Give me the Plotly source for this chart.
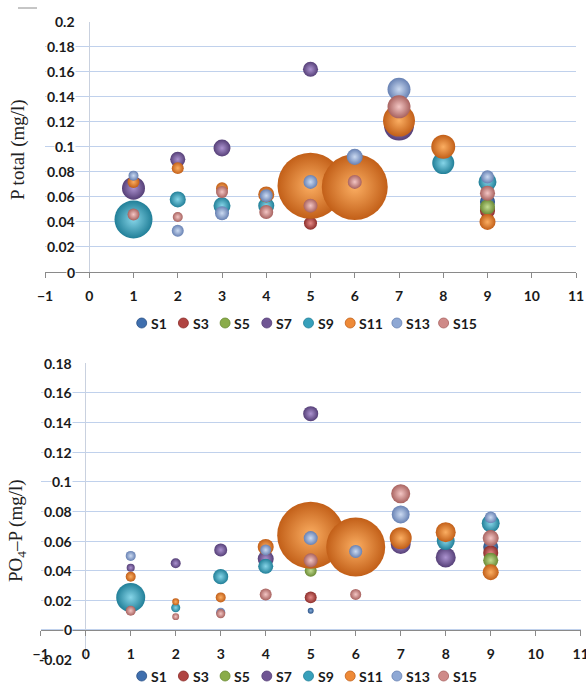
import plotly.graph_objects as go

W, H = 586, 684

# ---------------- data ----------------
stations = [1, 2, 3, 4, 5, 6, 7, 8, 9]
series = ["S1", "S3", "S5", "S7", "S9", "S11", "S13", "S15"]
N = None

# P total (mg/l)
tp_S1 = [N, N, N, N, N, N, N, N, 0.056]
tp_S3 = [N, N, N, N, 0.039, N, N, N, 0.049]
tp_S5 = [N, N, N, N, N, N, N, N, 0.052]
tp_S7 = [0.067, 0.090, 0.099, N, 0.162, N, 0.117, N, N]
tp_S9 = [0.042, 0.058, 0.053, 0.053, N, N, N, 0.087, 0.072]
tp_S11 = [0.072, 0.083, 0.067, 0.062, 0.069, 0.068, 0.121, 0.100, 0.040]
tp_S13 = [0.077, 0.033, 0.047, 0.061, 0.072, 0.092, 0.146, N, 0.076]
tp_S15 = [0.046, 0.044, 0.064, 0.048, 0.053, 0.072, 0.132, N, 0.063]

# bubble sizes (relative) for P total
tps_S1 = [N, N, N, N, N, N, N, N, 5.2]
tps_S3 = [N, N, N, N, 3.9, N, N, N, 5.2]
tps_S5 = [N, N, N, N, N, N, N, N, 5.2]
tps_S7 = [12.1, 5.2, 6.6, N, 5.2, N, 20.7, N, N]
tps_S9 = [33.1, 5.9, 6.6, 5.9, N, N, N, 11.1, 7.4]
tps_S11 = [3.3, 3.3, 3.3, 5.9, 100, 100, 23.5, 13.2, 5.9]
tps_S13 = [2.3, 3.3, 4.5, 3.9, 4.5, 5.9, 12.1, N, 3.9]
tps_S15 = [3.3, 2.3, 3.3, 4.5, 4.5, 4.5, 12.1, N, 5.2]

# PO4-P (mg/l)
po_S1 = [N, N, N, N, 0.013, N, N, N, 0.056]
po_S3 = [N, N, N, N, 0.022, N, N, N, 0.052]
po_S5 = [N, N, N, N, 0.040, N, N, N, 0.047]
po_S7 = [0.042, 0.045, 0.054, 0.048, 0.146, N, 0.058, 0.049, N]
po_S9 = [0.022, 0.015, 0.036, 0.043, N, N, N, 0.060, 0.072]
po_S11 = [0.036, 0.019, 0.022, 0.056, 0.064, 0.056, 0.062, 0.066, 0.039]
po_S13 = [0.050, N, 0.012, 0.054, 0.062, 0.053, 0.078, N, 0.076]
po_S15 = [0.013, 0.009, 0.011, 0.024, 0.047, 0.024, 0.092, N, 0.062]

# bubble sizes (relative) for PO4-P
pos_S1 = [N, N, N, N, 0.8, N, N, N, 5.2]
pos_S3 = [N, N, N, N, 3.3, N, N, N, 5.2]
pos_S5 = [N, N, N, N, 3.3, N, N, N, 5.2]
pos_S7 = [1.5, 2.3, 3.9, 5.9, 5.2, N, 9.2, 9.2, N]
pos_S9 = [19.3, 1.9, 5.2, 5.2, N, N, N, 7.4, 7.4]
pos_S11 = [2.3, 1.1, 2.3, 5.9, 103, 80, 11.1, 9.2, 5.9]
pos_S13 = [2.3, N, 1.9, 2.8, 4.5, 3.9, 7.4, N, 3.3]
pos_S15 = [2.3, 1.1, 1.9, 3.3, 4.5, 2.8, 8.3, N, 5.9]

x_ticks = list(range(-1, 12))
tp_ticks = [0, 0.02, 0.04, 0.06, 0.08, 0.1, 0.12, 0.14, 0.16, 0.18, 0.2]
tp_labels = ["0", "0.02", "0.04", "0.06", "0.08", "0.1", "0.12", "0.14", "0.16", "0.18", "0.2"]
po_ticks = [-0.02, 0, 0.02, 0.04, 0.06, 0.08, 0.1, 0.12, 0.14, 0.16, 0.18]
po_labels = ["-0.02", "0", "0.02", "0.04", "0.06", "0.08", "0.1", "0.12", "0.14", "0.16", "0.18"]

top_y = [tp_S1, tp_S3, tp_S5, tp_S7, tp_S9, tp_S11, tp_S13, tp_S15]
top_s = [tps_S1, tps_S3, tps_S5, tps_S7, tps_S9, tps_S11, tps_S13, tps_S15]
bot_y = [po_S1, po_S3, po_S5, po_S7, po_S9, po_S11, po_S13, po_S15]
bot_s = [pos_S1, pos_S3, pos_S5, pos_S7, pos_S9, pos_S11, pos_S13, pos_S15]

# ---------------- styles ----------------
edge = ["#2b5286", "#8c2d2a", "#6a8a34", "#553f77", "#217f98", "#c25f18", "#6781b3", "#a8625f"]
center = ["#86aedd", "#e58a87", "#c3dc92", "#ac93d0", "#86d5e8", "#fbae62", "#cbdaf1", "#f3c6c4"]
mid = ["#3f6fae", "#b04441", "#8aac4a", "#6f5593", "#37a0bb", "#ee8a37", "#8ea8d4", "#cf8a88"]

MAXD = 66.0
SIZEREF = 2 * 100 / MAXD ** 2

TICKFONT = dict(family="Lato, Liberation Sans, sans-serif", size=14, color="#1a1a1a", weight="bold")
GRID = "#c0d1ec"

fig = go.Figure()


def add_series(ys_list, ss_list, xa, ya):
    for i, name in enumerate(series):
        xs, ys, ss = [], [], []
        for xv, yv, sv in zip(stations, ys_list[i], ss_list[i]):
            if yv is not None:
                xs.append(xv)
                ys.append(yv)
                ss.append(sv)
        fig.add_trace(go.Scatter(
            x=xs, y=ys, mode="markers", name=name, xaxis=xa, yaxis=ya,
            showlegend=False, cliponaxis=False,
            marker=dict(size=ss, sizemode="area", sizeref=SIZEREF, sizemin=0,
                        color=edge[i], opacity=1, line=dict(width=0),
                        gradient=dict(type="radial", color=center[i])),
        ))


add_series(top_y, top_s, "x", "y")
add_series(bot_y, bot_s, "x2", "y2")

top_dom_y = [1 - 272 / H, 1 - 21.7 / H]
bot_dom_y = [1 - 659.6 / H, 1 - 363.3 / H]

xcommon = dict(range=[-1, 11], tickvals=x_ticks, showgrid=False, showline=True,
               linecolor="#8a8a8a", linewidth=1, ticks="outside", ticklen=5,
               tickcolor="#8a8a8a", tickfont=TICKFONT, zeroline=True,
               zerolinecolor="#c9d1df", zerolinewidth=1, ticklabelstandoff=6,
               ticklabeloverflow="allow", automargin=False)
ycommon = dict(showticklabels=False, showgrid=True, gridcolor=GRID, gridwidth=1.2,
               zeroline=False, showline=False, ticks="", automargin=False)

fig.update_layout(
    width=W, height=H, margin=dict(l=0, r=0, t=0, b=0, autoexpand=False),
    paper_bgcolor="white", plot_bgcolor="white", showlegend=False,
    xaxis=dict(domain=[45 / W, 576 / W], anchor="y", **xcommon),
    yaxis=dict(domain=top_dom_y, anchor="x", range=[0, 0.2], tickvals=tp_ticks, **ycommon),
    xaxis2=dict(domain=[40.7 / W, 580.7 / W], anchor="free", position=1 - 630 / H, **xcommon),
    yaxis2=dict(domain=bot_dom_y, anchor="x2", range=[-0.02, 0.18], tickvals=po_ticks, **ycommon),
)

annotations = []
# y tick labels (with white background like Excel)
for xa, ya, vals, labs in [("x", "y", tp_ticks, tp_labels), ("x2", "y2", po_ticks, po_labels)]:
    for v, t in zip(vals, labs):
        annotations.append(dict(
            xref=xa, yref=ya, x=0, y=v, text=t, showarrow=False, xanchor="right",
            yanchor="middle", xshift=-13, font=TICKFONT, borderpad=0,
            bgcolor="white" if v >= 0 else "rgba(0,0,0,0)"))

# axis titles
TITLEFONT = dict(family="Liberation Serif, Times New Roman, serif", size=19, color="#222222")
annotations.append(dict(xref="paper", yref="paper", x=18 / W, y=1 - 150 / H,
                        text="P total (mg/l)", textangle=-90, showarrow=False,
                        font=TITLEFONT, xanchor="center", yanchor="middle"))
annotations.append(dict(xref="paper", yref="paper", x=17 / W, y=1 - 531 / H,
                        text="PO<sub>4</sub>–P (mg/l)", textangle=-90, showarrow=False,
                        font=TITLEFONT, xanchor="center", yanchor="middle"))

# custom legends (Excel-like compact layout)
shapes = []
for ly in (323, 676):
    mx = 141.7
    for i, name in enumerate(series):
        shapes.append(dict(type="circle", xref="paper", yref="paper",
                           xsizemode="pixel", ysizemode="pixel",
                           xanchor=mx / W, yanchor=1 - ly / H,
                           x0=-5, x1=5, y0=-5, y1=5,
                           fillcolor=mid[i], line=dict(color=edge[i], width=0.8)))
        annotations.append(dict(xref="paper", yref="paper", x=(mx + 8.3) / W, y=1 - ly / H,
                                text=name, showarrow=False, xanchor="left", yanchor="middle",
                                font=TICKFONT, borderpad=0))
        mx += 36.7 + 5 * (len(name) - 1)

# small stray dash at top-left of the original
shapes.append(dict(type="line", xref="paper", yref="paper", x0=18 / W, x1=37 / W,
                   y0=1 - 8 / H, y1=1 - 8 / H, line=dict(color="#8c8c8c", width=1)))

fig.update_layout(annotations=annotations, shapes=shapes)

fig.write_html("out.html", config={"displayModeBar": False},
               post_script="document.body.style.margin='0';document.body.style.padding='0';")
